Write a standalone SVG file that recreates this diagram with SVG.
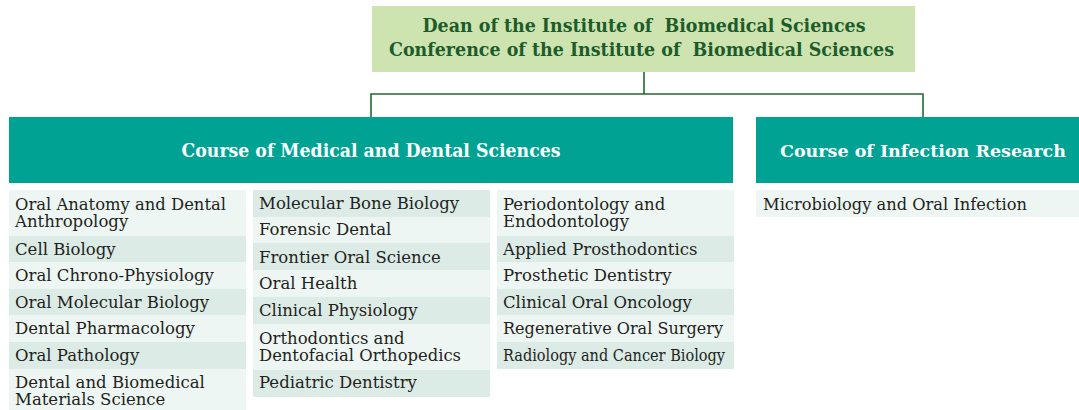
<svg xmlns="http://www.w3.org/2000/svg" width="1079" height="410" viewBox="0 0 1079 410">
<style>
.bg{fill:#ffffff}
.top{fill:#cde3b0}
.ttl{font-family:"DejaVu Serif","Liberation Serif",serif;font-weight:bold;font-size:18.5px;fill:#1d5c2a;text-anchor:middle;white-space:pre}
.course{fill:#00a393}
.ctl{font-family:"DejaVu Serif","Liberation Serif",serif;font-weight:bold;font-size:19px;fill:#ffffff;text-anchor:middle}
.lt{fill:#edf6f3}
.dk{fill:#dcebe6}
.it{font-family:"DejaVu Serif","Liberation Serif",serif;font-size:16.5px;fill:#231f20}
.ln{stroke:#1e6b30;stroke-width:1.6;fill:none}
.ln2{stroke:#4a8a5a;stroke-width:2;fill:none}
</style>
<rect class="bg" x="0" y="0" width="1079" height="410"/>
<g id="connectors">
<line class="ln2" x1="644" y1="72" x2="644" y2="94"/>
<polyline class="ln" points="371,117 371,94 923,94 923,117"/>
</g>
<g id="dean">
<rect class="top" x="372" y="6" width="543" height="66"/>
<text class="ttl" x="644" y="31.7" textLength="443" lengthAdjust="spacingAndGlyphs" xml:space="preserve">Dean of the Institute of  Biomedical Sciences</text>
<text class="ttl" x="641.5" y="55.5" textLength="505" lengthAdjust="spacingAndGlyphs" xml:space="preserve">Conference of the Institute of  Biomedical Sciences</text>
</g>
<g id="course-medical-dental">
<rect class="course" x="9" y="117" width="724" height="66"/>
<text class="ctl" x="371" y="157" textLength="379" lengthAdjust="spacingAndGlyphs">Course of Medical and Dental Sciences</text>
</g>
<g id="course-infection">
<rect class="course" x="756" y="117" width="323" height="66"/>
<text class="ctl" x="923" y="157" style="font-size:17px" textLength="286" lengthAdjust="spacingAndGlyphs">Course of Infection Research</text>
</g>
<g id="oral-anatomy"><rect class="lt" x="9" y="190" width="237" height="46"/><text class="it" x="15" y="209.5" textLength="211" lengthAdjust="spacingAndGlyphs">Oral Anatomy and Dental</text><text class="it" x="15" y="227">Anthropology</text></g>
<g id="cell-biology"><rect class="dk" x="9" y="236" width="237" height="26"/><text class="it" x="15" y="254.5">Cell Biology</text></g>
<g id="oral-chrono"><rect class="lt" x="9" y="262" width="237" height="27"/><text class="it" x="15" y="281">Oral Chrono-Physiology</text></g>
<g id="oral-molecular"><rect class="dk" x="9" y="289" width="237" height="26"/><text class="it" x="15" y="307.7">Oral Molecular Biology</text></g>
<g id="dental-pharmacology"><rect class="lt" x="9" y="315" width="237" height="27"/><text class="it" x="15" y="334.4">Dental Pharmacology</text></g>
<g id="oral-pathology"><rect class="dk" x="9" y="342" width="237" height="27"/><text class="it" x="15" y="361">Oral Pathology</text></g>
<g id="dental-biomaterials"><rect class="lt" x="9" y="369" width="237" height="41"/><text class="it" x="15" y="387.7">Dental and Biomedical</text><text class="it" x="15" y="405.3">Materials Science</text></g>
<g id="molecular-bone"><rect class="dk" x="253" y="190" width="237" height="27"/><text class="it" x="259" y="208.7">Molecular Bone Biology</text></g>
<g id="forensic-dental"><rect class="lt" x="253" y="217" width="237" height="26"/><text class="it" x="259" y="235.4">Forensic Dental</text></g>
<g id="frontier-oral"><rect class="dk" x="253" y="243" width="237" height="27"/><text class="it" x="259" y="262.7">Frontier Oral Science</text></g>
<g id="oral-health"><rect class="lt" x="253" y="270" width="237" height="27"/><text class="it" x="259" y="289">Oral Health</text></g>
<g id="clinical-physiology"><rect class="dk" x="253" y="297" width="237" height="27"/><text class="it" x="259" y="316">Clinical Physiology</text></g>
<g id="orthodontics"><rect class="lt" x="253" y="324" width="237" height="46"/><text class="it" x="259" y="343.7">Orthodontics and</text><text class="it" x="259" y="361.3" textLength="202" lengthAdjust="spacingAndGlyphs">Dentofacial Orthopedics</text></g>
<g id="pediatric"><rect class="dk" x="253" y="370" width="237" height="27"/><text class="it" x="259" y="387.7">Pediatric Dentistry</text></g>
<g id="periodontology"><rect class="lt" x="497" y="190" width="237" height="46"/><text class="it" x="503" y="209.7">Periodontology and</text><text class="it" x="503" y="227">Endodontology</text></g>
<g id="applied-prosthodontics"><rect class="dk" x="497" y="236" width="237" height="26"/><text class="it" x="503" y="254.5">Applied Prosthodontics</text></g>
<g id="prosthetic-dentistry"><rect class="lt" x="497" y="262" width="237" height="27"/><text class="it" x="503" y="281">Prosthetic Dentistry</text></g>
<g id="clinical-oncology"><rect class="dk" x="497" y="289" width="237" height="26"/><text class="it" x="503" y="307.7">Clinical Oral Oncology</text></g>
<g id="regenerative"><rect class="lt" x="497" y="315" width="237" height="27"/><text class="it" x="503" y="334.4" textLength="220" lengthAdjust="spacingAndGlyphs">Regenerative Oral Surgery</text></g>
<g id="radiology"><rect class="dk" x="497" y="342" width="237" height="27"/><text class="it" x="503" y="361" textLength="222" lengthAdjust="spacingAndGlyphs">Radiology and Cancer Biology</text></g>
<g id="microbiology"><rect class="lt" x="756" y="190" width="323" height="27"/><text class="it" x="763" y="209.7" textLength="264" lengthAdjust="spacingAndGlyphs">Microbiology and Oral Infection</text></g>
</svg>
